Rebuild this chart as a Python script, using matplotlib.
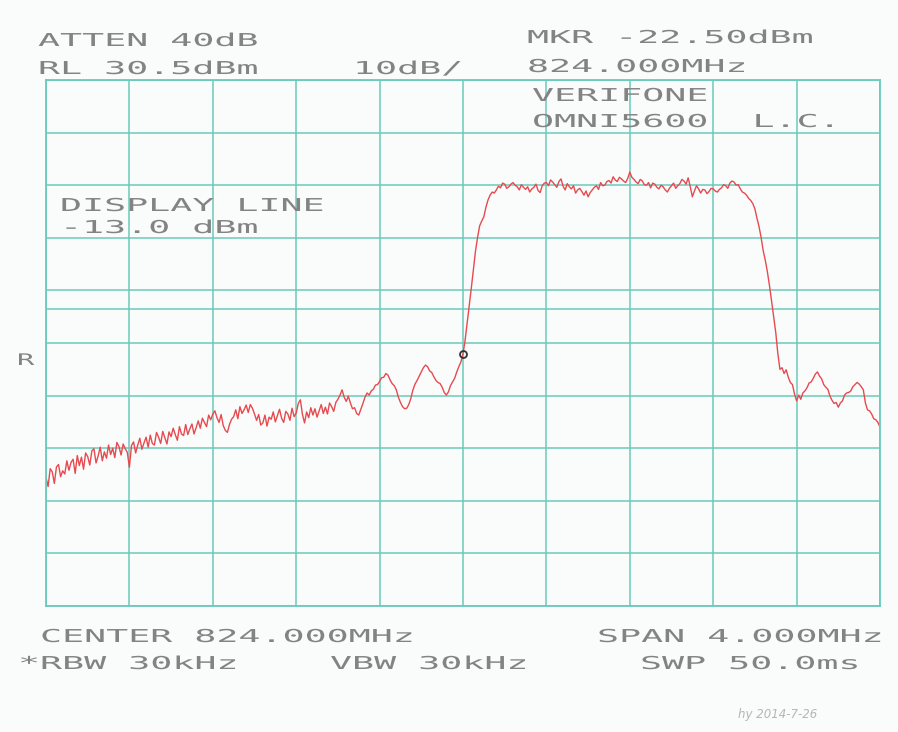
import numpy as np
import matplotlib
matplotlib.use("Agg")
import matplotlib.pyplot as plt
from matplotlib.patheffects import AbstractPathEffect
from matplotlib.transforms import Affine2D

# analyzer settings
freq_start = 822.0      # MHz
freq_stop = 826.0       # MHz
ref_level = 30.5        # dBm, top of screen
db_per_div = 10
display_line = -13.0    # dBm
marker_index = 200      # marker sits on the centre frequency

# trace in dBm, 401 sweep points from 822 to 826 MHz
trace_dbm = [
    -45.0, -46.8, -43.4, -44.0, -46.2, -43.1, -42.6, -44.9, -43.8, -44.4,
    -41.9, -43.7, -42.2, -41.6, -44.3, -40.9, -42.8, -41.2, -43.5, -40.4,
    -41.1, -42.7, -40.0, -39.6, -42.3, -41.0, -39.3, -41.9, -40.2, -41.4,
    -38.9, -40.7, -39.5, -41.3, -38.4, -39.2, -40.8, -38.7, -39.6, -40.3,
    -43.1, -39.0, -38.3, -40.4, -38.9, -37.6, -39.7, -38.5, -37.4, -39.3,
    -37.0, -38.6, -38.9, -36.5, -37.4, -38.6, -36.3, -37.5, -38.7, -36.4,
    -37.3, -35.7, -36.9, -38.0, -35.4, -36.8, -37.1, -35.0, -36.9, -35.8,
    -34.9, -36.8, -35.6, -34.3, -35.7, -33.8, -34.6, -35.4, -33.2, -34.1,
    -33.0, -32.4, -33.7, -34.6, -33.1, -35.2, -36.1, -36.5, -35.0, -34.0,
    -33.5, -32.2, -33.9, -31.6, -32.9, -32.2, -31.3, -32.7, -31.2, -31.9,
    -33.0, -34.2, -33.1, -35.1, -34.7, -33.2, -35.3, -33.6, -34.0, -32.6,
    -34.5, -33.3, -32.1, -33.8, -34.6, -32.5, -33.0, -34.2, -31.9, -33.5,
    -32.8, -31.0, -30.3, -33.1, -34.7, -32.6, -33.7, -31.8, -33.2, -32.0,
    -33.6, -32.4, -31.2, -32.9, -31.7, -33.0, -30.9, -31.6, -32.5, -30.8,
    -30.2, -29.4, -28.4, -29.8, -30.6, -29.6, -30.9, -32.0, -31.8, -32.9,
    -33.2, -32.1, -31.0, -29.8, -29.0, -29.4, -28.6, -28.3, -27.5, -27.4,
    -26.8, -26.1, -26.0, -25.3, -25.6, -26.5, -27.2, -27.6, -28.4, -29.8,
    -30.8, -31.6, -32.0, -31.9, -31.2, -30.0, -28.4, -27.3, -26.6, -25.8,
    -25.0, -24.2, -23.7, -24.0, -24.8, -25.1, -25.9, -26.6, -27.0, -27.2,
    -27.9, -28.9, -29.4, -28.8, -27.6, -26.9, -26.2, -25.0, -24.0, -23.1,
    -21.6, -19.0, -15.7, -12.5, -9.0, -5.5, -2.0, 0.6, 2.8, 3.7,
    4.5, 6.3, 7.7, 8.6, 9.2, 9.0, 9.6, 10.3, 10.0, 10.9,
    10.7, 9.9, 10.2, 10.7, 11.0, 10.5, 10.2, 9.6, 10.6, 10.1,
    9.7, 10.2, 9.2, 9.8, 10.1, 10.7, 9.5, 9.1, 10.4, 10.9,
    11.0, 10.4, 11.5, 11.1, 10.6, 10.1, 11.2, 11.7, 10.3, 9.6,
    10.8, 10.2, 9.8, 10.4, 9.0, 9.6, 9.9, 9.3, 8.6, 9.4,
    8.3, 9.1, 9.6, 10.1, 10.4, 9.7, 11.0, 10.4, 10.5, 11.2,
    11.4, 10.9, 12.1, 11.5, 11.2, 12.0, 11.7, 11.3, 11.0, 11.8,
    13.0, 12.0, 11.6, 11.1, 10.8, 11.6, 11.3, 10.6, 10.5, 11.0,
    10.0, 10.9, 10.7, 10.1, 9.8, 10.5, 10.2, 9.6, 9.2, 9.9,
    10.4, 10.9, 9.9, 10.4, 10.8, 11.6, 11.3, 10.7, 11.9, 10.2,
    8.3, 9.4, 10.4, 9.8, 9.0, 9.7, 9.6, 8.9, 9.3, 9.9,
    9.8, 9.4, 9.2, 9.7, 10.0, 10.6, 10.4, 9.9, 10.9, 11.3,
    11.1, 10.5, 10.6, 9.8, 9.2, 9.0, 8.6, 8.0, 7.6, 7.0,
    6.0, 4.2, 2.6, 0.5, -2.0, -3.8, -6.0, -8.6, -11.5, -14.5,
    -17.5, -21.5, -24.5, -24.2, -25.3, -24.6, -26.0, -27.0, -27.4, -29.2,
    -30.5, -29.4, -30.2, -29.0, -28.6, -28.0, -27.1, -26.9, -26.2, -25.4,
    -25.0, -25.8, -26.3, -27.4, -27.9, -28.3, -29.6, -30.4, -31.0, -30.8,
    -31.7, -30.9, -30.5, -29.4, -29.0, -28.9, -28.6, -27.8, -27.4, -27.0,
    -27.3, -27.8, -28.4, -30.9, -32.2, -32.4, -33.0, -33.9, -34.1, -34.6,
    -35.5,
]

# annotation text: (string, left x px, baseline y px)
screen_text = [
    ("ATTEN 40dB", 38, 46),
    ("RL 30.5dBm", 38, 74),
    ("10dB/", 353, 74),
    ("MKR -22.50dBm", 527, 43),
    ("824.000MHz", 527, 72),
    ("VERIFONE", 532, 101),
    ("OMNI5600  L.C.", 532, 127),
    ("DISPLAY LINE", 60, 211),
    ("-13.0 dBm", 60, 233),
    ("CENTER 824.000MHz", 40, 642),
    ("SPAN 4.000MHz", 597, 642),
    ("*RBW 30kHz", 18, 669),
    ("VBW 30kHz", 330, 669),
    ("SWP 50.0ms", 640, 669),
]


class StretchX(AbstractPathEffect):
    # widen the glyphs like the plotter font
    def __init__(self, sx):
        super().__init__()
        self.sx = sx

    def draw_path(self, renderer, gc, tpath, affine, rgbFace=None):
        renderer.draw_path(gc, tpath, Affine2D().scale(self.sx, 1) + affine, rgbFace)


W, H = 898, 732
paper = "#fafcfb"
grid_col = "#6acabb"
text_col = "#838383"

fig = plt.figure(figsize=(W / 100, H / 100), dpi=100, facecolor=paper)
ax = fig.add_axes([46 / W, 1 - 606 / H, (880 - 46) / W, (606 - 80) / H])
ax.set_facecolor(paper)

freqs = np.linspace(freq_start, freq_stop, len(trace_dbm))
bottom = ref_level - 10 * db_per_div

ax.set_xlim(freq_start, freq_stop)
ax.set_ylim(bottom, ref_level)
ax.set_xticks(np.linspace(freq_start, freq_stop, 11))
ax.set_yticks(np.arange(bottom, ref_level + 0.1, db_per_div))
ax.tick_params(length=0, labelbottom=False, labelleft=False)
ax.grid(True, color=grid_col, lw=1.1)
for s in ax.spines.values():
    s.set_color(grid_col)
    s.set_linewidth(1.3)

ax.axhline(display_line, color=grid_col, lw=1.1)

ax.plot(freqs, trace_dbm, color="#e64a50", lw=1.0)
ax.plot(freqs[marker_index], trace_dbm[marker_index], "o", ms=5, mfc="none",
        mec="#333333", mew=1.3)

for s, x, y in screen_text:
    fig.text(x / W, 1 - y / H, s, ha="left", va="baseline", fontsize=12.8,
             family="DejaVu Sans Mono", color=text_col,
             path_effects=[StretchX(2.06)])

fig.text(17 / W, 1 - 365 / H, "R", ha="left", va="baseline", fontsize=11.5,
         family="DejaVu Sans Mono", color=text_col, path_effects=[StretchX(1.8)])

# handwritten note in the corner
fig.text(738 / W, 1 - 718 / H, "hy 2014-7-26", ha="left", va="baseline",
         fontsize=8.5, style="italic", color="#b5b5b5")

fig.savefig("out.png", dpi=100, facecolor=paper)
